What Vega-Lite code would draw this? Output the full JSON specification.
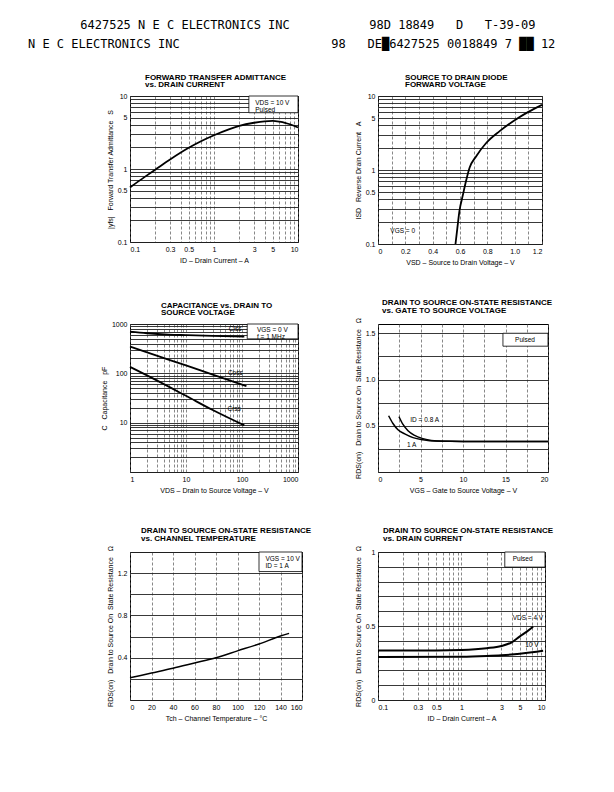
{
  "$schema": "https://vega.github.io/schema/vega-lite/v6.json",
  "background": "white",
  "padding": {"left": 27, "top": 19, "right": 5, "bottom": 5},
  "title": {
    "text": "\u2800\u00a0\u00a0\u00a0\u00a0\u00a0\u00a06427525 N E C ELECTRONICS INC\u00a0\u00a0\u00a0\u00a0\u00a0\u00a0\u00a0\u00a0\u00a0\u00a0\u00a098D 18849\u00a0\u00a0\u00a0D\u00a0\u00a0\u00a0T-39-09",
    "subtitle": "N E C ELECTRONICS INC\u00a0\u00a0\u00a0\u00a0\u00a0\u00a0\u00a0\u00a0\u00a0\u00a0\u00a0\u00a0\u00a0\u00a0\u00a0\u00a0\u00a0\u00a0\u00a0\u00a0\u00a098\u00a0\u00a0\u00a0DE\u25886427525 0018849 7 \u2588\u2588 12",
    "anchor": "start",
    "frame": "bounds",
    "font": "DejaVu Sans Mono",
    "fontSize": 12,
    "fontWeight": "normal",
    "color": "black",
    "subtitleFont": "DejaVu Sans Mono",
    "subtitleFontSize": 12,
    "subtitleColor": "black",
    "subtitlePadding": 7,
    "dx": -72,
    "offset": 22
  },
  "config": {
    "font": "Liberation Sans",
    "view": {"stroke": "black", "strokeWidth": 1},
    "axis": {
      "ticks": false,
      "domain": false,
      "tickCount": 200,
      "labelOverlap": false,
      "labelFont": "Liberation Sans",
      "labelFontSize": 7,
      "labelColor": "black",
      "labelPadding": 3,
      "titleFont": "Liberation Sans",
      "titleFontSize": 7,
      "titleFontWeight": "normal",
      "titleColor": "black",
      "titlePadding": 4,
      "gridOpacity": 1
    },
    "axisX": {"gridDash": [3, 2], "gridColor": "#555", "gridWidth": 0.7},
    "axisY": {"gridColor": "#222", "gridWidth": 0.9},
    "title": {"fontSize": 8, "fontWeight": "bold", "anchor": "start", "frame": "group", "color": "black", "lineHeight": 7.5, "offset": 3},
    "text": {"font": "Liberation Sans", "fontSize": 6.5, "color": "black"}
  },
  "columns": 2,
  "bounds": "flush",
  "spacing": {"row": 80, "column": 76},
  "concat": [
    {
      "width": 168,
      "height": 146,
      "title": {"text": ["FORWARD TRANSFER ADMITTANCE", "vs. DRAIN CURRENT"], "dx": 15},
      "layer": [
        {
          "data": {"values": [
            {"id": 0.1, "yfs": 0.56}, {"id": 0.15, "yfs": 0.78}, {"id": 0.2, "yfs": 0.98}, {"id": 0.3, "yfs": 1.35},
            {"id": 0.5, "yfs": 1.95}, {"id": 0.7, "yfs": 2.4}, {"id": 1, "yfs": 2.9}, {"id": 1.5, "yfs": 3.5},
            {"id": 2, "yfs": 3.9}, {"id": 3, "yfs": 4.3}, {"id": 4, "yfs": 4.5}, {"id": 5, "yfs": 4.55},
            {"id": 6, "yfs": 4.45}, {"id": 7, "yfs": 4.3}, {"id": 8, "yfs": 4.1}, {"id": 10, "yfs": 3.7}
          ]},
          "mark": {"type": "line", "color": "black", "strokeWidth": 1.8, "interpolate": "monotone"},
          "encoding": {
            "x": {"field": "id", "type": "quantitative", "scale": {"type": "log", "domain": [0.1, 10]},
              "axis": {"title": "ID \u2013 Drain Current \u2013 A", "format": "~g",
                "values": [0.1,0.2,0.3,0.4,0.5,0.6,0.7,0.8,0.9,1,2,3,4,5,6,7,8,9,10],
                "labelExpr": "indexof([0.1,0.3,0.5,1,3,5,10], datum.value) >= 0 ? datum.label : ''"}},
            "y": {"field": "yfs", "type": "quantitative", "scale": {"type": "log", "domain": [0.1, 10]},
              "axis": {"title": "|yfs|\u00a0\u00a0\u00a0Forward Transfer Admittance\u00a0\u00a0\u00a0S", "format": "~g",
                "values": [0.1,0.2,0.3,0.4,0.5,0.6,0.7,0.8,0.9,1,2,3,4,5,6,7,8,9,10],
                "labelExpr": "indexof([0.1,0.5,1,5,10], datum.value) >= 0 ? datum.label : ''"}}
          }
        },
        {
          "data": {"values": [{}]},
          "mark": {"type": "rect", "fill": "white", "stroke": "black", "strokeWidth": 0.8},
          "encoding": {"x": {"datum": 2.6}, "x2": {"datum": 10}, "y": {"datum": 5.9}, "y2": {"datum": 10}}
        },
        {
          "data": {"values": [{}]},
          "mark": {"type": "text", "text": ["VDS = 10 V", "Pulsed"], "align": "left", "baseline": "middle", "lineHeight": 7},
          "encoding": {"x": {"datum": 3.1}, "y": {"datum": 7.9}}
        }
      ]
    },
    {
      "width": 164,
      "height": 148,
      "title": {"text": ["SOURCE TO DRAIN DIODE", "FORWARD VOLTAGE"], "dx": 27},
      "layer": [
        {
          "data": {"values": [
            {"vsd": 0.567, "isd": 0.1}, {"vsd": 0.58, "isd": 0.16}, {"vsd": 0.596, "isd": 0.28}, {"vsd": 0.62, "isd": 0.45},
            {"vsd": 0.645, "isd": 0.72}, {"vsd": 0.67, "isd": 1.07}, {"vsd": 0.72, "isd": 1.55}, {"vsd": 0.79, "isd": 2.3},
            {"vsd": 0.89, "isd": 3.35}, {"vsd": 1.0, "isd": 4.7}, {"vsd": 1.1, "isd": 6.1}, {"vsd": 1.2, "isd": 7.6}
          ]},
          "mark": {"type": "line", "color": "black", "strokeWidth": 1.8, "interpolate": "monotone"},
          "encoding": {
            "x": {"field": "vsd", "type": "quantitative", "scale": {"domain": [0, 1.2]},
              "axis": {"title": "VSD \u2013 Source to Drain Voltage \u2013 V",
                "values": [0,0.1,0.2,0.3,0.4,0.5,0.6,0.7,0.8,0.9,1,1.1,1.2],
                "labelExpr": "datum.value == 0 ? '0' : (indexof([0.2,0.4,0.6,0.8,1,1.2], datum.value) >= 0 ? format(datum.value, '.1f') : '')"}},
            "y": {"field": "isd", "type": "quantitative", "scale": {"type": "log", "domain": [0.1, 10]},
              "axis": {"title": "ISD\u00a0\u00a0\u00a0Reverse Drain Current\u00a0\u00a0\u00a0A", "format": "~g",
                "values": [0.1,0.2,0.3,0.4,0.5,0.6,0.7,0.8,0.9,1,2,3,4,5,6,7,8,9,10],
                "labelExpr": "indexof([0.1,0.5,1,5,10], datum.value) >= 0 ? datum.label : ''"}}
          }
        },
        {
          "data": {"values": [{}]},
          "mark": {"type": "text", "text": "VGS = 0", "align": "left", "baseline": "middle"},
          "encoding": {"x": {"datum": 0.09}, "y": {"datum": 0.15}}
        }
      ]
    },
    {
      "width": 168,
      "height": 148,
      "title": {"text": ["CAPACITANCE vs. DRAIN TO", "SOURCE VOLTAGE"], "dx": 31},
      "layer": [
        {
          "data": {"values": [
            {"vds": 1, "c": 700, "s": "Ciss"}, {"vds": 2, "c": 650, "s": "Ciss"}, {"vds": 5, "c": 610, "s": "Ciss"},
            {"vds": 10, "c": 595, "s": "Ciss"}, {"vds": 30, "c": 575, "s": "Ciss"}, {"vds": 110, "c": 555, "s": "Ciss"},
            {"vds": 1, "c": 350, "s": "Coss"}, {"vds": 3, "c": 228, "s": "Coss"}, {"vds": 10, "c": 145, "s": "Coss"},
            {"vds": 30, "c": 94, "s": "Coss"}, {"vds": 120, "c": 55, "s": "Coss"},
            {"vds": 1, "c": 135, "s": "Crss"}, {"vds": 3, "c": 72, "s": "Crss"}, {"vds": 10, "c": 35, "s": "Crss"},
            {"vds": 30, "c": 18, "s": "Crss"}, {"vds": 110, "c": 8.8, "s": "Crss"}
          ]},
          "mark": {"type": "line", "color": "black", "strokeWidth": 1.8, "interpolate": "monotone"},
          "encoding": {
            "detail": {"field": "s"},
            "x": {"field": "vds", "type": "quantitative", "scale": {"type": "log", "domain": [1, 1000]},
              "axis": {"title": "VDS \u2013 Drain to Source Voltage \u2013 V", "format": "~g",
                "values": [1,2,3,4,5,6,7,8,9,10,20,30,40,50,60,70,80,90,100,200,300,400,500,600,700,800,900,1000],
                "labelExpr": "indexof([1,10,100,1000], datum.value) >= 0 ? datum.label : ''"}},
            "y": {"field": "c", "type": "quantitative", "scale": {"type": "log", "domain": [1, 1000]},
              "axis": {"title": "C\u00a0\u00a0\u00a0Capacitance\u00a0\u00a0\u00a0pF", "format": "~g",
                "values": [1,2,3,4,5,6,7,8,9,10,20,30,40,50,60,70,80,90,100,200,300,400,500,600,700,800,900,1000],
                "labelExpr": "indexof([10,100,1000], datum.value) >= 0 ? datum.label : ''"}}
          }
        },
        {
          "data": {"values": [{}]},
          "mark": {"type": "rect", "fill": "white", "stroke": "black", "strokeWidth": 0.8},
          "encoding": {"x": {"datum": 124}, "x2": {"datum": 1000}, "y": {"datum": 500}, "y2": {"datum": 1000}}
        },
        {
          "data": {"values": [{}]},
          "mark": {"type": "text", "text": ["VGS = 0 V", "f = 1 MHz"], "align": "left", "baseline": "middle", "lineHeight": 7},
          "encoding": {"x": {"datum": 185}, "y": {"datum": 760}}
        },
        {
          "data": {"values": [{}]},
          "mark": {"type": "text", "text": "Ciss", "align": "left", "baseline": "middle"},
          "encoding": {"x": {"datum": 58}, "y": {"datum": 800}}
        },
        {
          "data": {"values": [{}]},
          "mark": {"type": "text", "text": "Coss", "align": "left", "baseline": "middle"},
          "encoding": {"x": {"datum": 56}, "y": {"datum": 102}}
        },
        {
          "data": {"values": [{}]},
          "mark": {"type": "text", "text": "Crss", "align": "left", "baseline": "middle"},
          "encoding": {"x": {"datum": 55}, "y": {"datum": 18.5}}
        }
      ]
    },
    {
      "width": 170,
      "height": 148,
      "title": {"text": ["DRAIN TO SOURCE ON-STATE RESISTANCE", "vs. GATE TO SOURCE VOLTAGE"], "dx": 4},
      "layer": [
        {
          "data": {"values": [
            {"vgs": 1.25, "r": 0.608, "s": "1A"}, {"vgs": 1.76, "r": 0.524, "s": "1A"}, {"vgs": 2.35, "r": 0.456, "s": "1A"},
            {"vgs": 3.14, "r": 0.412, "s": "1A"}, {"vgs": 4.12, "r": 0.372, "s": "1A"}, {"vgs": 5.29, "r": 0.348, "s": "1A"},
            {"vgs": 6.86, "r": 0.334, "s": "1A"}, {"vgs": 10, "r": 0.331, "s": "1A"}, {"vgs": 20, "r": 0.331, "s": "1A"},
            {"vgs": 2.47, "r": 0.598, "s": "0.8A"}, {"vgs": 2.94, "r": 0.514, "s": "0.8A"}, {"vgs": 3.53, "r": 0.446, "s": "0.8A"},
            {"vgs": 4.31, "r": 0.395, "s": "0.8A"}, {"vgs": 5.29, "r": 0.361, "s": "0.8A"}, {"vgs": 6.27, "r": 0.341, "s": "0.8A"},
            {"vgs": 7.65, "r": 0.332, "s": "0.8A"}, {"vgs": 10, "r": 0.331, "s": "0.8A"}, {"vgs": 20, "r": 0.331, "s": "0.8A"}
          ]},
          "mark": {"type": "line", "color": "black", "strokeWidth": 1.5, "interpolate": "monotone"},
          "encoding": {
            "detail": {"field": "s"},
            "x": {"field": "vgs", "type": "quantitative", "scale": {"domain": [0, 20]},
              "axis": {"title": "VGS \u2013 Gate to Source Voltage \u2013 V", "format": "~g",
                "values": [0,2.5,5,7.5,10,12.5,15,17.5,20],
                "labelExpr": "indexof([0,5,10,15,20], datum.value) >= 0 ? datum.label : ''"}},
            "y": {"field": "r", "type": "quantitative", "scale": {"domain": [0, 1.5]},
              "axis": {"title": "RDS(on)\u00a0\u00a0\u00a0Drain to Source On\u00a0\u00a0State Resistance\u00a0\u00a0\u00a0\u03a9",
                "values": [0,0.25,0.5,0.75,1,1.25,1.5],
                "labelExpr": "indexof([0.5,1,1.5], datum.value) >= 0 ? format(datum.value, '.1f') : ''"}}
          }
        },
        {
          "data": {"values": [{}]},
          "mark": {"type": "rect", "fill": "white", "stroke": "black", "strokeWidth": 0.8},
          "encoding": {"x": {"datum": 14.7}, "x2": {"datum": 20}, "y": {"datum": 1.36}, "y2": {"datum": 1.5}}
        },
        {
          "data": {"values": [{}]},
          "mark": {"type": "text", "text": "Pulsed", "align": "center", "baseline": "middle"},
          "encoding": {"x": {"datum": 17.3}, "y": {"datum": 1.43}}
        },
        {
          "data": {"values": [{}]},
          "mark": {"type": "text", "text": "ID = 0.8 A", "align": "left", "baseline": "middle"},
          "encoding": {"x": {"datum": 3.8}, "y": {"datum": 0.56}}
        },
        {
          "data": {"values": [{}]},
          "mark": {"type": "text", "text": "1 A", "align": "left", "baseline": "middle"},
          "encoding": {"x": {"datum": 3.4}, "y": {"datum": 0.29}}
        }
      ]
    },
    {
      "width": 172,
      "height": 148,
      "title": {"text": ["DRAIN TO SOURCE ON-STATE RESISTANCE", "vs. CHANNEL TEMPERATURE"], "dx": 11},
      "layer": [
        {
          "data": {"values": [
            {"t": 0, "r": 0.21}, {"t": 20, "r": 0.255}, {"t": 40, "r": 0.3}, {"t": 60, "r": 0.35},
            {"t": 80, "r": 0.4}, {"t": 100, "r": 0.465}, {"t": 120, "r": 0.53}, {"t": 140, "r": 0.605}, {"t": 148, "r": 0.63}
          ]},
          "mark": {"type": "line", "color": "black", "strokeWidth": 1.5, "interpolate": "monotone"},
          "encoding": {
            "x": {"field": "t", "type": "quantitative", "scale": {"domain": [0, 160]},
              "axis": {"title": "Tch \u2013 Channel Temperature \u2013 \u00b0C", "values": [0,20,40,60,80,100,120,140,160]}},
            "y": {"field": "r", "type": "quantitative", "scale": {"domain": [0, 1.4]},
              "axis": {"title": "RDS(on)\u00a0\u00a0\u00a0Drain to Source On\u00a0\u00a0State Resistance\u00a0\u00a0\u00a0\u03a9",
                "values": [0,0.2,0.4,0.6,0.8,1,1.2,1.4],
                "labelExpr": "indexof([0.4,0.8,1.2], datum.value) >= 0 ? format(datum.value, '.1f') : ''"}}
          }
        },
        {
          "data": {"values": [{}]},
          "mark": {"type": "rect", "fill": "white", "stroke": "black", "strokeWidth": 0.8},
          "encoding": {"x": {"datum": 120}, "x2": {"datum": 160}, "y": {"datum": 1.215}, "y2": {"datum": 1.4}}
        },
        {
          "data": {"values": [{}]},
          "mark": {"type": "text", "text": ["VGS = 10 V", "ID = 1 A"], "align": "left", "baseline": "middle", "lineHeight": 7.5},
          "encoding": {"x": {"datum": 126}, "y": {"datum": 1.335}}
        }
      ]
    },
    {
      "width": 167,
      "height": 148,
      "title": {"text": ["DRAIN TO SOURCE ON-STATE RESISTANCE", "vs. DRAIN CURRENT"], "dx": 5},
      "layer": [
        {
          "data": {"values": [
            {"id": 0.1, "r": 0.335, "s": "4V"}, {"id": 0.5, "r": 0.335, "s": "4V"}, {"id": 1, "r": 0.338, "s": "4V"},
            {"id": 2, "r": 0.35, "s": "4V"}, {"id": 3, "r": 0.365, "s": "4V"}, {"id": 4, "r": 0.39, "s": "4V"},
            {"id": 5, "r": 0.43, "s": "4V"}, {"id": 6, "r": 0.46, "s": "4V"}, {"id": 7.2, "r": 0.495, "s": "4V"},
            {"id": 0.1, "r": 0.29, "s": "10V"}, {"id": 1, "r": 0.292, "s": "10V"}, {"id": 2, "r": 0.297, "s": "10V"},
            {"id": 3, "r": 0.302, "s": "10V"}, {"id": 5, "r": 0.312, "s": "10V"}, {"id": 7, "r": 0.322, "s": "10V"},
            {"id": 9.5, "r": 0.333, "s": "10V"}
          ]},
          "mark": {"type": "line", "color": "black", "strokeWidth": 2, "interpolate": "monotone"},
          "encoding": {
            "detail": {"field": "s"},
            "x": {"field": "id", "type": "quantitative", "scale": {"type": "log", "domain": [0.1, 10]},
              "axis": {"title": "ID \u2013 Drain Current \u2013 A", "format": "~g",
                "values": [0.1,0.2,0.3,0.4,0.5,0.6,0.7,0.8,0.9,1,2,3,4,5,6,7,8,9,10],
                "labelExpr": "indexof([0.1,0.3,0.5,1,3,5,10], datum.value) >= 0 ? datum.label : ''"}},
            "y": {"field": "r", "type": "quantitative", "scale": {"domain": [0, 1]},
              "axis": {"title": "RDS(on)\u00a0\u00a0\u00a0Drain to Source On\u00a0\u00a0State Resistance\u00a0\u00a0\u00a0\u03a9", "format": "~g",
                "values": [0,0.1,0.2,0.3,0.4,0.5,0.6,0.7,0.8,0.9,1],
                "labelExpr": "indexof([0,0.5,1], datum.value) >= 0 ? datum.label : ''"}}
          }
        },
        {
          "data": {"values": [{}]},
          "mark": {"type": "rect", "fill": "white", "stroke": "black", "strokeWidth": 0.8},
          "encoding": {"x": {"datum": 3.3}, "x2": {"datum": 10}, "y": {"datum": 0.898}, "y2": {"datum": 1}}
        },
        {
          "data": {"values": [{}]},
          "mark": {"type": "text", "text": "Pulsed", "align": "center", "baseline": "middle"},
          "encoding": {"x": {"datum": 5.4}, "y": {"datum": 0.952}}
        },
        {
          "data": {"values": [{}]},
          "mark": {"type": "text", "text": "VDS = 4 V", "align": "left", "baseline": "middle"},
          "encoding": {"x": {"datum": 4.1}, "y": {"datum": 0.555}}
        },
        {
          "data": {"values": [{}]},
          "mark": {"type": "text", "text": "10 V", "align": "left", "baseline": "middle"},
          "encoding": {"x": {"datum": 5.8}, "y": {"datum": 0.37}}
        }
      ]
    }
  ]
}
